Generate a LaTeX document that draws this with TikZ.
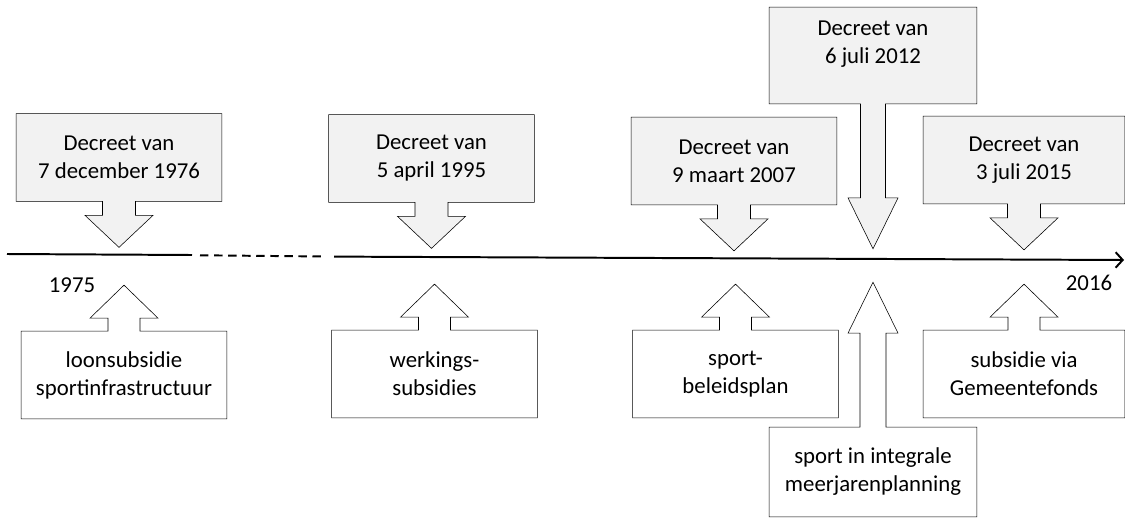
\documentclass[tikz,border=0pt]{standalone}
\usepackage{fontspec}
\setmainfont{Carlito}
\usetikzlibrary{arrows.meta, calc, backgrounds}
\definecolor{cfill}{HTML}{F2F2F2}
\definecolor{cink}{HTML}{000000}
\tikzset{
  every picture/.style={line width=1.2pt},
  box/.style={align=center, inner sep=0pt, minimum width=5.1cm, minimum height=2.15cm,
    font=\fontsize{16.2}{19.9}\selectfont},
  outline/.style={draw=cink, fill=#1, line join=miter},
  outline/.default=white,
  year/.style={font=\fontsize{16.2}{19.9}\selectfont},
  axis/.style={draw=cink, line width=1.4pt},
}

\begin{document}
\begin{tikzpicture}[x=0.025cm, y=-0.025cm]
  % #1 node, #2 far side, #3 arrow side, #4 shaft half width, #5 head half width,
  % #6 shaft length, #7 head length, #8 fill
  \newcommand{\callout}[8]{%
    \draw[outline=#8] (#1.#2 west) -- (#1.#2 east) -- (#1.#3 east)
      -- ($(#1.#3)+(#4,0)$) -- ($(#1.#3)+(#4,#6)$) -- ($(#1.#3)+(#5,#6)$)
      -- ($(#1.#3)+(0,{#6+(#7)})$) -- ($(#1.#3)+(-#5,#6)$) -- ($(#1.#3)+(-#4,#6)$)
      -- ($(#1.#3)+(-#4,0)$) -- (#1.#3 west) -- cycle;}
  \useasboundingbox (0,0) rectangle (1125,520);

  % timeline
  \coordinate (t0) at (7,254);
  \coordinate (t1) at (192,255);
  \coordinate (t2) at (200,255.3);
  \coordinate (t3) at (326,256.5);
  \coordinate (t4) at (334,256.6);
  \coordinate (t5) at (1124,260);
  \draw[axis] (t0) -- (t1);
  \draw[axis, dash pattern=on 6pt off 4pt] (t2) -- (t3);
  \draw[axis, -{Straight Barb[length=5pt, width=11pt]}] (t4) -- (t5);
  \node[year] (y1975) at (72,285) {1975};
  \node[year] (y2016) at (1089,283) {2016};

  % decrees above the line
  \node[box] (d1976) at (119,157.5) {Decreet van\\7 december 1976};
  \node[box] (d1995) at (431.5,158.5) {Decreet van\\5 april 1995};
  \node[box] (d2007) at (734,161) {Decreet van\\9 maart 2007};
  \node[box, minimum width=5.15cm, minimum height=2.375cm] (d2012) at (873,55.5)
    {\raisebox{4pt}[\dimexpr\height-4pt\relax][\dimexpr\depth+4pt\relax]{\parbox{5cm}{\centering Decreet van\\6 juli 2012}}};
  \node[box, minimum width=5cm] (d2015) at (1024,160) {Decreet van\\3 juli 2015};

  % subsidies below the line
  \node[box] (loon) at (124,375) {loonsubsidie\\sportinfrastructuur};
  \node[box] (werk) at (434.5,374) {werkings-\\subsidies};
  \node[box] (plan) at (735.5,374) {sport-\\beleidsplan};
  \node[box, minimum width=5.15cm, minimum height=2.2cm] (meer) at (873,472) {sport in integrale\\meerjarenplanning};
  \node[box, minimum width=5cm] (gfonds) at (1024,374) {subsidie via\\Gemeentefonds};

  \begin{scope}[on background layer]
    \callout{d1976}{north}{south}{16.5}{34}{14}{32}{cfill}
    \callout{d1995}{north}{south}{16.5}{34}{14}{32}{cfill}
    \callout{d2007}{north}{south}{16.5}{34}{14}{32}{cfill}
    \callout{d2012}{north}{south}{12.5}{25}{94}{51}{cfill}
    \callout{d2015}{north}{south}{16.5}{34}{14}{32}{cfill}
    \callout{loon}{south}{north}{16}{34}{-13}{-33}{white}
    \callout{werk}{south}{north}{16}{34}{-13}{-33}{white}
    \callout{plan}{south}{north}{16}{34}{-13}{-33}{white}
    \callout{meer}{south}{north}{13}{25}{-94}{-51}{white}
    \callout{gfonds}{south}{north}{16}{34}{-13}{-33}{white}
  \end{scope}
\end{tikzpicture}
\end{document}
